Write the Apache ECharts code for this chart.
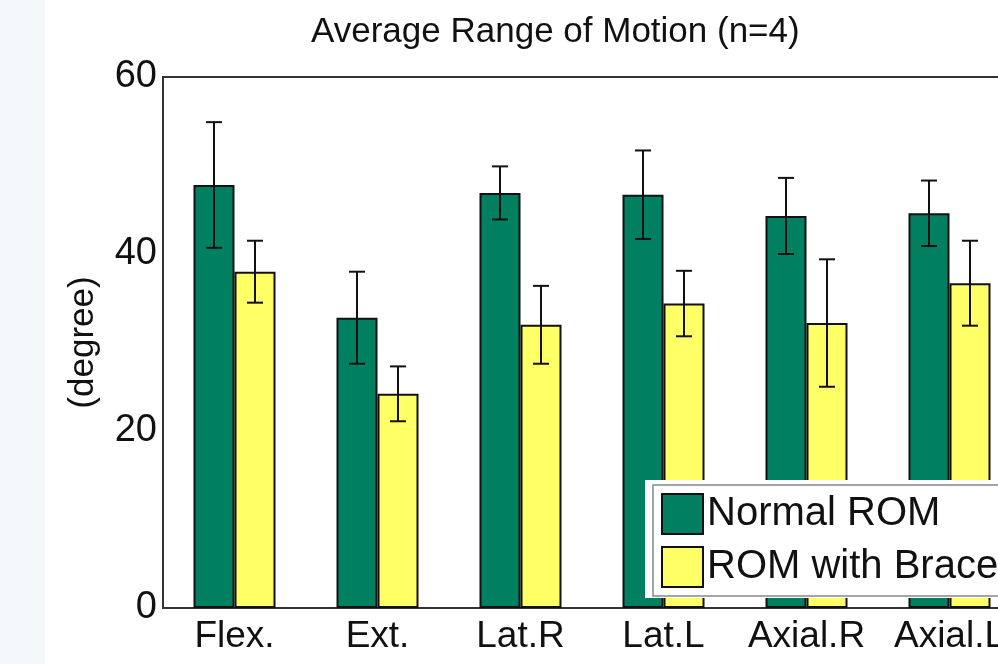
<!DOCTYPE html>
<html>
<head>
<meta charset="utf-8">
<script src="https://cdn.jsdelivr.net/npm/echarts@6/dist/echarts.min.js"></script>
<style>
html,body{margin:0;padding:0;background:#fff;overflow:hidden;}
#chart{width:998px;height:664px;}
</style>
</head>
<body>
<div id="chart"></div>
<script>
var categories = ['Flex.', 'Ext.', 'Lat.R', 'Lat.L', 'Axial.R', 'Axial.L'];
var normalMean = [47.8, 32.8, 46.9, 46.7, 44.3, 44.6];
var normalErr  = [7.1, 5.2, 3.0, 5.0, 4.3, 3.7];
var braceMean  = [38.0, 24.2, 32.0, 34.4, 32.2, 36.7];
var braceErr   = [3.5, 3.1, 4.4, 3.7, 7.2, 4.8];
var yTicks = [0, 20, 40, 60];

var FONT = '"Liberation Sans", Arial, sans-serif';
var BAR_W = 41;
var CAP = 8;

function errData(means, errs) {
  return means.map(function (m, i) { return [i, m - errs[i], m + errs[i]]; });
}
function errSeries(name, means, errs, offset) {
  return {
    type: 'custom',
    name: name + ' err',
    z: 5,
    silent: true,
    data: errData(means, errs),
    renderItem: function (params, api) {
      var lo = api.coord([api.value(0), api.value(1)]);
      var hi = api.coord([api.value(0), api.value(2)]);
      var x = lo[0] + offset;
      var st = { stroke: '#111', lineWidth: 2 };
      return {
        type: 'group',
        children: [
          { type: 'line', shape: { x1: x, y1: lo[1], x2: x, y2: hi[1] }, style: st },
          { type: 'line', shape: { x1: x - CAP, y1: lo[1], x2: x + CAP, y2: lo[1] }, style: st },
          { type: 'line', shape: { x1: x - CAP, y1: hi[1], x2: x + CAP, y2: hi[1] }, style: st }
        ]
      };
    }
  };
}

var chart = echarts.init(document.getElementById('chart'), null, { renderer: 'canvas' });
chart.setOption({
  backgroundColor: '#ffffff',
  animation: false,
  title: {
    text: 'Average Range of Motion (n=4)',
    left: 306,
    top: 10,
    textStyle: { fontFamily: FONT, fontSize: 35, fontWeight: 'normal', color: '#111' }
  },
  graphic: [
    { type: 'rect', left: 0, top: 0, z: -10, shape: { width: 45, height: 664 }, style: { fill: '#f3f9fa' } },
    { type: 'rect', left: 645, top: 480, z: 10, shape: { width: 400, height: 118 }, style: { fill: '#ffffff' } }
  ],
  legend: {
    orient: 'vertical',
    left: 653,
    top: 485,
    z: 20,
    padding: [8, 200, 8, 8],
    itemWidth: 41,
    itemHeight: 40,
    itemGap: 11,
    borderColor: '#888',
    borderWidth: 1.5,
    backgroundColor: 'transparent',
    icon: 'rect',
    textStyle: { fontFamily: FONT, fontSize: 40, color: '#111', padding: [0, 0, 0, -1] },
    data: ['Normal ROM', 'ROM with Brace']
  },
  grid: {
    left: 163,
    top: 77,
    width: 858,
    bottom: 56,
    show: true,
    borderColor: '#333',
    borderWidth: 2,
    containLabel: false,
    outerBoundsMode: 'none'
  },
  xAxis: {
    type: 'category',
    data: categories,
    axisLine: { show: true, lineStyle: { color: '#333', width: 2 } },
    axisTick: { show: false },
    axisLabel: { interval: 0, fontFamily: FONT, fontSize: 37, color: '#111', margin: 10 }
  },
  yAxis: {
    type: 'value',
    min: yTicks[0],
    max: yTicks[yTicks.length - 1],
    interval: 20,
    name: '(degree)',
    nameLocation: 'middle',
    nameRotate: 90,
    nameGap: 62,
    nameTextStyle: { fontFamily: FONT, fontSize: 35, color: '#111' },
    axisLine: { show: true, lineStyle: { color: '#333', width: 2 } },
    axisTick: { show: false },
    splitLine: { show: false },
    axisLabel: { fontFamily: FONT, fontSize: 38, color: '#111', margin: 6 }
  },
  series: [
    {
      name: 'Normal ROM',
      type: 'bar',
      data: normalMean,
      barWidth: BAR_W,
      barGap: '0%',
      itemStyle: { color: '#008060', borderColor: '#111', borderWidth: 2 }
    },
    {
      name: 'ROM with Brace',
      type: 'bar',
      data: braceMean,
      barWidth: BAR_W,
      barGap: '0%',
      itemStyle: { color: '#ffff66', borderColor: '#111', borderWidth: 2 }
    },
    errSeries('Normal ROM', normalMean, normalErr, -BAR_W / 2),
    errSeries('ROM with Brace', braceMean, braceErr, BAR_W / 2)
  ]
});
</script>
</body>
</html>
